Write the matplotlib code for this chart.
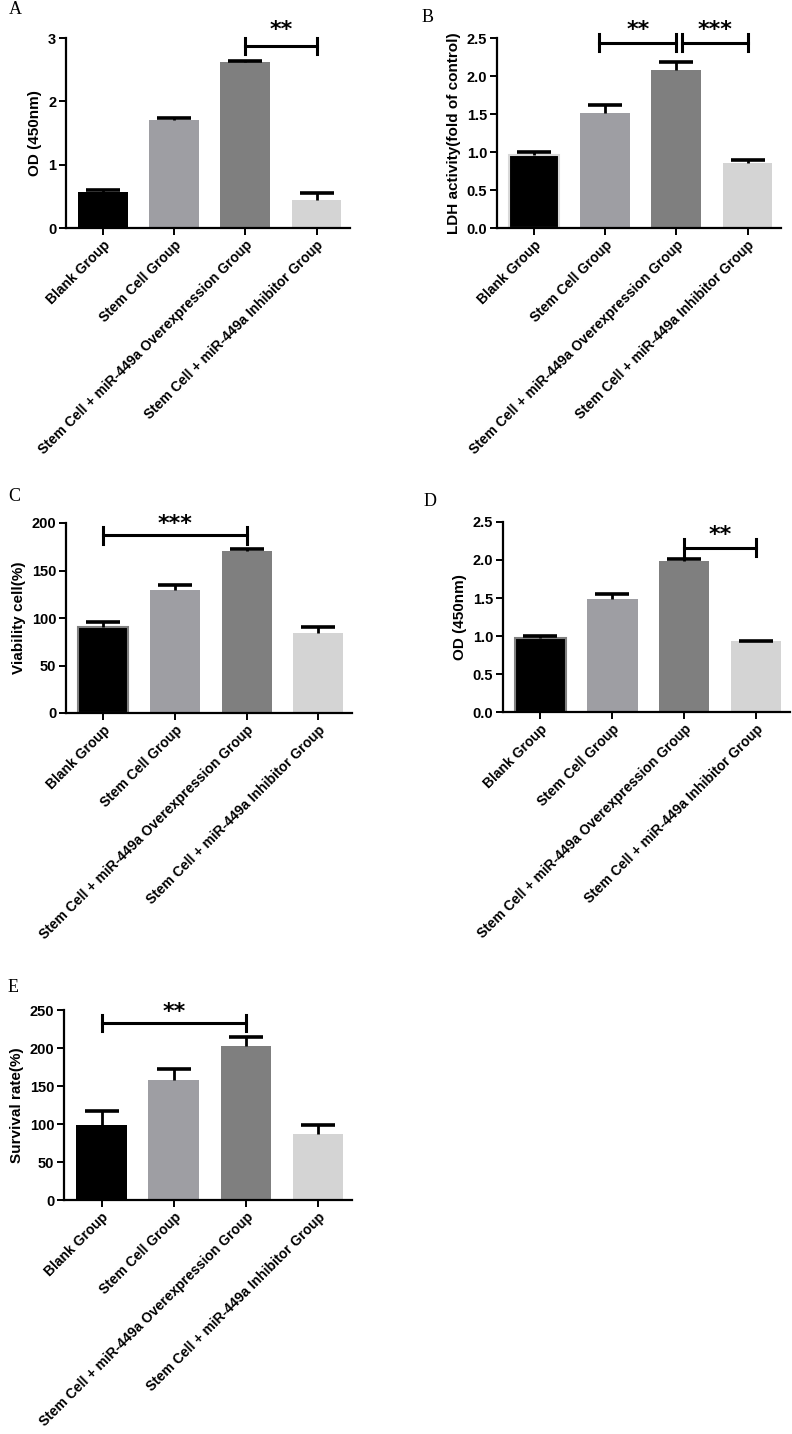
import numpy as np
import matplotlib
matplotlib.use("Agg")
import matplotlib.pyplot as plt

plt.rcParams['font.family'] = ['Liberation Sans', 'DejaVu Sans']
plt.rcParams['font.weight'] = 'bold'

groups = ["Blank Group", "Stem Cell Group",
          "Stem Cell + miR-449a Overexpression Group",
          "Stem Cell + miR-449a Inhibitor Group"]
bar_colors = ["#000000", "#9e9ea3", "#7f7f7f", "#d4d4d4"]

# panel A: OD (450nm)
a_mean = [0.57, 1.70, 2.62, 0.45]
a_err = [0.025, 0.03, 0.02, 0.10]
# panel B: LDH activity
b_mean = [0.96, 1.51, 2.08, 0.86]
b_err = [0.04, 0.11, 0.11, 0.03]
# panel C: viability
c_mean = [91, 129, 171, 84]
c_err = [5, 6, 2, 7]
# panel D: OD (450nm)
d_mean = [0.97, 1.49, 1.99, 0.93]
d_err = [0.03, 0.06, 0.02, 0.01]
# panel E: survival rate
e_mean = [99, 158, 202, 87]
e_err = [18, 14, 13, 12]

W, H = 792, 1434
fig = plt.figure(figsize=(W / 100, H / 100), dpi=100)


def make_ax(left, top, right, bottom):
    return fig.add_axes([left / W, 1 - bottom / H, (right - left) / W, (bottom - top) / H])


def draw(ax, mean, err, ylabel, ymax, yticks, fmt, blank_edge=None):
    x = np.arange(len(mean))
    mean = np.asarray(mean, dtype=float)
    err = np.asarray(err, dtype=float)
    bars = ax.bar(x, mean, width=0.7, color=bar_colors, zorder=2)
    if blank_edge is not None:
        bars[0].set_edgecolor(blank_edge)
        bars[0].set_linewidth(1.5)
    # upper-only error bars, cap only at the top
    ax.vlines(x, mean, mean + err, color='black', lw=2, zorder=3)
    ax.plot(x, mean + err, ls='none', marker='_', markersize=24, mew=2.6,
            color='black', zorder=3)
    ax.set_xlim(-0.52, 3.47)
    ax.set_ylim(0, ymax)
    ax.set_yticks(yticks)
    ax.set_yticklabels([fmt.format(v) for v in yticks], fontsize=10.5, fontweight='bold')
    ax.set_xticks(x)
    ax.set_xticklabels(groups, rotation=45, ha='right', rotation_mode='anchor',
                       fontsize=10, fontweight='bold')
    ax.set_ylabel(ylabel, fontsize=11, fontweight='bold')
    for s in ['top', 'right']:
        ax.spines[s].set_visible(False)
    for s in ['left', 'bottom']:
        ax.spines[s].set_linewidth(1.6)
    ax.tick_params(direction='out', length=5, width=1.4, pad=2)


def bracket(ax, x0, x1, y, half, stars, ystar):
    ax.plot([x0, x1], [y, y], color='black', lw=2.2, clip_on=False, zorder=4)
    for xe in (x0, x1):
        ax.plot([xe, xe], [y - half, y + half], color='black', lw=2.2,
                clip_on=False, zorder=4)
    ax.text((x0 + x1) / 2, ystar, stars, ha='center', va='center', fontsize=16,
            fontweight='bold', family='DejaVu Sans', clip_on=False)


axA = make_ax(66, 38, 350, 228)
draw(axA, a_mean, a_err, "OD (450nm)", 3, [0, 1, 2, 3], "{:.0f}")
bracket(axA, 2, 3, 2.88, 0.125, "**", 3.12)

axB = make_ax(497, 38, 781, 228)
draw(axB, b_mean, b_err, "LDH activity(fold of control)", 2.5,
     [0, 0.5, 1.0, 1.5, 2.0, 2.5], "{:.1f}", blank_edge="#d8d8d8")
bracket(axB, 0.92, 2.0, 2.44, 0.11, "**", 2.60)
bracket(axB, 2.08, 3.0, 2.44, 0.11, "***", 2.60)

axC = make_ax(66, 523, 352, 713)
draw(axC, c_mean, c_err, "Viability cell(%)", 200, [0, 50, 100, 150, 200], "{:.0f}",
     blank_edge="#808080")
bracket(axC, 0, 2, 187, 9, "***", 199)

axD = make_ax(503, 522, 790, 712)
draw(axD, d_mean, d_err, "OD (450nm)", 2.5, [0, 0.5, 1.0, 1.5, 2.0, 2.5], "{:.1f}",
     blank_edge="#808080")
bracket(axD, 2, 3, 2.16, 0.11, "**", 2.33)

axE = make_ax(64, 1010, 352, 1200)
draw(axE, e_mean, e_err, "Survival rate(%)", 250, [0, 50, 100, 150, 200, 250], "{:.0f}")
bracket(axE, 0, 2, 233, 11, "**", 247)

for lab, px, py in [("A", 9, 10), ("B", 422, 17), ("C", 8, 497), ("D", 424, 502), ("E", 8, 987)]:
    fig.text(px / W, 1 - py / H, lab, family='Liberation Serif', fontsize=13,
             fontweight='normal', ha='left', va='center')

fig.savefig("out.png", dpi=100)
